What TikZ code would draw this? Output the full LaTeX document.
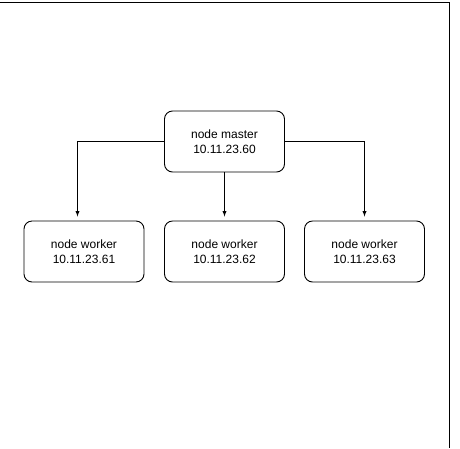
\documentclass[tikz,border=0pt]{standalone}
\usepackage{fontspec}
\setmainfont{Liberation Sans}
\usetikzlibrary{positioning,arrows}

\tikzset{
  host/.style={draw, rounded corners=8pt, minimum width=120pt, minimum height=61pt,
    align=center, font=\fontsize{12}{15}\selectfont, line width=0.9pt},
  link/.style={-latex, line width=0.9pt, shorten >=4pt}
}

\begin{document}
\begin{tikzpicture}[x=1pt,y=-1pt,node distance=110pt,on grid]
   \useasboundingbox (0,0) rectangle (460,448);
   \draw[line width=1pt] (0,2.5) -- (449.5,2.5) -- (449.5,448);

   \node[host] (master) at (224.5,141.5) {node master\\10.11.23.60};
   \node[host] (worker2) [below=of master] {node worker\\10.11.23.62};
   \node[host] (worker1) [left=140.5pt of worker2] {node worker\\10.11.23.61};
   \node[host] (worker3) [right=140pt of worker2] {node worker\\10.11.23.63};

   \draw[link] (master.west) -| ([xshift=-6.5pt]worker1.north);
   \draw[link] (master.south) -- (worker2.north);
   \draw[link] (master.east) -| (worker3.north);
\end{tikzpicture}
\end{document}
